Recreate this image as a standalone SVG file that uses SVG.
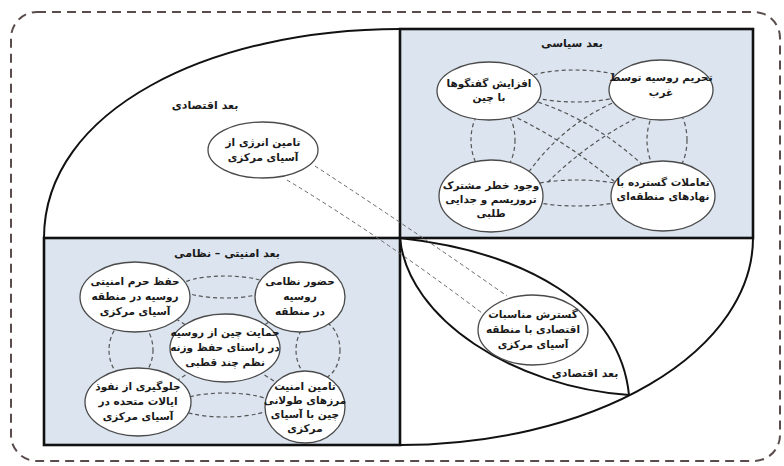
<svg xmlns="http://www.w3.org/2000/svg" width="784" height="466" viewBox="0 0 784 466">
<style>
.frame{fill:none;stroke:#5b4c4c;stroke-width:2;stroke-dasharray:9 6}
.arc{fill:none;stroke:#111;stroke-width:2}
.box{fill:#dbe4ef;stroke:#111;stroke-width:2.6}
.node{fill:#fff;stroke:#4a4a4a;stroke-width:1.3}
.dash{fill:none;stroke:#555;stroke-width:1.2;stroke-dasharray:4 3}
.ldash{fill:none;stroke:#666;stroke-width:1;stroke-dasharray:4 3}
text{font-family:"DejaVu Sans","Noto Sans",sans-serif;font-weight:bold;font-size:10.5px;fill:#1a1a1a;text-anchor:middle}
.title{font-size:11px}
</style>
<rect class="frame" x="11" y="12" width="769" height="449" rx="26"/>
<g id="arcs">
<path class="arc" d="M44,238 C44,110 210,29 400,29"/>
<path class="arc" d="M753,238 A353,207 0 0 1 400,445"/>
<path class="arc" d="M400,238 C525,252 620,305 629,395"/>
<path class="arc" d="M400,238 C408,320 515,387 629,395"/>
</g>
<g id="box-political"><rect class="box" x="400" y="29" width="353" height="209"/></g>
<g id="box-security"><rect class="box" x="44" y="238" width="356" height="207"/></g>
<g id="connectors">
<ellipse class="dash" cx="575" cy="86" rx="58" ry="16"/>
<ellipse class="dash" cx="577" cy="193" rx="58" ry="13"/>
<ellipse class="dash" cx="493" cy="140" rx="22" ry="36"/>
<ellipse class="dash" cx="667" cy="140" rx="20" ry="36"/>
<path class="dash" d="M525,98 Q595,118 650,172"/>
<path class="dash" d="M505,112 Q565,140 615,182"/>
<path class="dash" d="M625,98 Q560,122 520,185"/>
<path class="dash" d="M648,112 Q590,140 548,182"/>
<ellipse class="dash" cx="225" cy="287" rx="45" ry="11"/>
<ellipse class="dash" cx="225" cy="405" rx="48" ry="12"/>
<ellipse class="dash" cx="131" cy="350" rx="22" ry="30"/>
<ellipse class="dash" cx="318" cy="350" rx="22" ry="30"/>
<path class="dash" d="M170,315 L285,388"/>
<path class="dash" d="M280,315 L165,388"/>
<path class="ldash" d="M315,166 Q410,228 507,296"/>
<path class="ldash" d="M287,180 Q380,236 482,313"/>
</g>
<text class="title" x="572" y="47">بعد سیاسی</text>
<text class="title" x="205" y="109">بعد اقتصادی</text>
<text class="title" x="227" y="257">بعد امنیتی – نظامی</text>
<text class="title" x="585" y="377">بعد اقتصادی</text>
<g id="n-dialogue"><ellipse class="node" cx="489" cy="91" rx="52" ry="29"/><text x="489" y="87">افزایش گفتگوها</text><text x="489" y="101">با چین</text></g>
<g id="n-sanction"><ellipse class="node" cx="661" cy="90" rx="52" ry="30"/><text x="661" y="81">تحریم روسیه توسط</text><text x="661" y="96">غرب</text></g>
<g id="n-terror"><ellipse class="node" cx="491" cy="196" rx="52" ry="36"/><text x="491" y="189">وجود خطر مشترک</text><text x="491" y="203">تروریسم و جدایی</text><text x="491" y="217">طلبی</text></g>
<g id="n-institutions"><ellipse class="node" cx="663" cy="196" rx="52" ry="35"/><text x="663" y="186">تعاملات گسترده با</text><text x="663" y="200">نهادهای منطقه‌ای</text></g>
<g id="n-energy"><ellipse class="node" cx="263" cy="150" rx="55" ry="28"/><text x="263" y="146">تامین انرژی از</text><text x="263" y="161">آسیای مرکزی</text></g>
<g id="n-econ"><ellipse class="node" cx="533" cy="330" rx="55" ry="35"/><text x="533" y="318">گسترش مناسبات</text><text x="533" y="333">اقتصادی با منطقه</text><text x="533" y="348">آسیای مرکزی</text></g>
<g id="n-haram"><ellipse class="node" cx="135" cy="297" rx="55" ry="35"/><text x="135" y="285">حفظ حرم امنیتی</text><text x="135" y="300">روسیه در منطقه</text><text x="135" y="315">آسیای مرکزی</text></g>
<g id="n-presence"><ellipse class="node" cx="300" cy="297" rx="45" ry="35"/><text x="300" y="285">حضور نظامی</text><text x="300" y="300">روسیه</text><text x="300" y="315">در منطقه</text></g>
<g id="n-support"><ellipse class="node" cx="225" cy="348" rx="55" ry="34"/><text x="225" y="336">حمایت چین از روسیه</text><text x="225" y="351">در راستای حفظ وزنه</text><text x="225" y="366">نظم چند قطبی</text></g>
<g id="n-us"><ellipse class="node" cx="138" cy="402" rx="53" ry="34"/><text x="138" y="390">جلوگیری از نفوذ</text><text x="138" y="405">ایالات متحده در</text><text x="138" y="420">آسیای مرکزی</text></g>
<g id="n-borders"><ellipse class="node" cx="305" cy="407" rx="40" ry="36"/><text x="305" y="390">تامین امنیت</text><text x="305" y="404">مرزهای طولانی</text><text x="305" y="418">چین با آسیای</text><text x="305" y="432">مرکزی</text></g>
</svg>
